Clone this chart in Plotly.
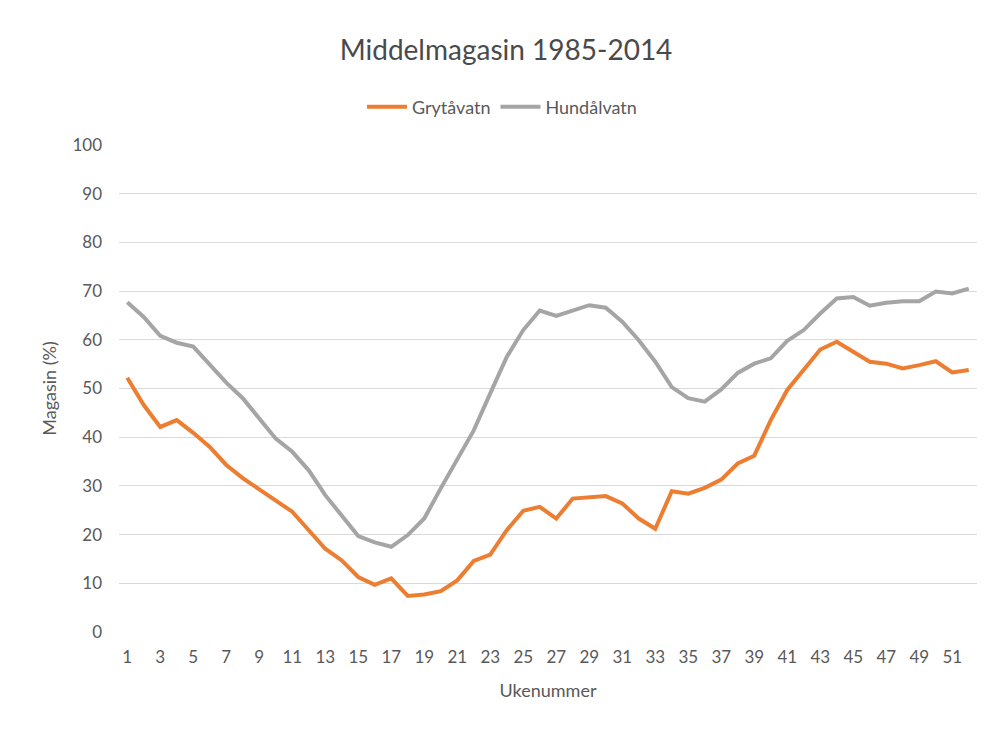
import plotly.graph_objects as go

weeks = list(range(1, 53))
grytavatn = [52.2, 46.6, 42.1, 43.5, 40.9, 38.0, 34.3, 31.6, 29.3, 27.1,
             24.7, 20.9, 17.1, 14.7, 11.3, 9.7, 11.0, 7.4, 7.7, 8.4,
             10.6, 14.6, 15.9, 20.9, 24.9, 25.7, 23.3, 27.4, 27.7, 27.9,
             26.4, 23.3, 21.2, 28.9, 28.4, 29.6, 31.3, 34.6, 36.2, 43.5,
             49.7, 53.8, 58.0, 59.6, 57.5, 55.5, 55.1, 54.1, 54.8, 55.6,
             53.3, 53.8]
hundalvatn = [67.7, 64.7, 60.8, 59.4, 58.6, 54.8, 51.2, 48.0, 43.8, 39.7,
              37.0, 33.2, 28.1, 24.0, 19.7, 18.4, 17.5, 19.9, 23.3, 29.5,
              35.6, 41.4, 49.0, 56.5, 62.0, 66.0, 64.9, 66.0, 67.1, 66.6,
              63.7, 59.9, 55.5, 50.3, 48.0, 47.3, 49.8, 53.2, 55.1, 56.2,
              59.8, 62.0, 65.4, 68.5, 68.8, 67.0, 67.6, 67.9, 67.9, 69.9,
              69.5, 70.5]
x_ticks = list(range(1, 53, 2))
y_ticks = list(range(0, 101, 10))

FONT = "Lato"
TXT = "#595959"

fig = go.Figure()
fig.add_trace(go.Scatter(x=weeks, y=grytavatn, mode="lines", name="Grytåvatn",
                         line=dict(color="#ED7D31", width=4)))
fig.add_trace(go.Scatter(x=weeks, y=hundalvatn, mode="lines", name="Hundålvatn",
                         line=dict(color="#A5A5A5", width=4)))

fig.update_layout(
    width=987, height=731,
    paper_bgcolor="white", plot_bgcolor="white",
    margin=dict(l=111, r=18, t=137, b=107, autoexpand=False),
    font=dict(family=FONT, color=TXT, size=17),
    title=dict(text="Middelmagasin 1985-2014", x=0.5046, xanchor="center",
               y=0.9425, yanchor="middle", xref="container", yref="container",
               font=dict(size=28, color="#4A4A4A", family=FONT)),
    legend=dict(orientation="h", x=0.5005, xanchor="center", xref="container",
                y=0.8646, yanchor="middle", yref="container",
                font=dict(size=18, color=TXT), itemwidth=40,
                bgcolor="rgba(0,0,0,0)"),
    showlegend=True,
)
fig.update_xaxes(
    range=[0.5, 52.5], tickmode="array", tickvals=x_ticks,
    ticktext=[str(v) for v in x_ticks], showgrid=False, zeroline=False,
    showline=False, ticks="", tickfont=dict(size=17, color=TXT),
    ticklabelstandoff=13,
    title=dict(text="Ukenummer", font=dict(size=18, color=TXT), standoff=18),
)
fig.update_yaxes(
    range=[0, 100], tickmode="array", tickvals=y_ticks,
    showgrid=True, gridcolor="#D9D9D9", gridwidth=1.3, zeroline=False,
    showline=False, ticks="", tickfont=dict(size=17, color=TXT),
    ticklabelstandoff=16,
    title=dict(text="Magasin (%)", font=dict(size=18, color=TXT), standoff=11),
)

fig.write_html("out.html")
